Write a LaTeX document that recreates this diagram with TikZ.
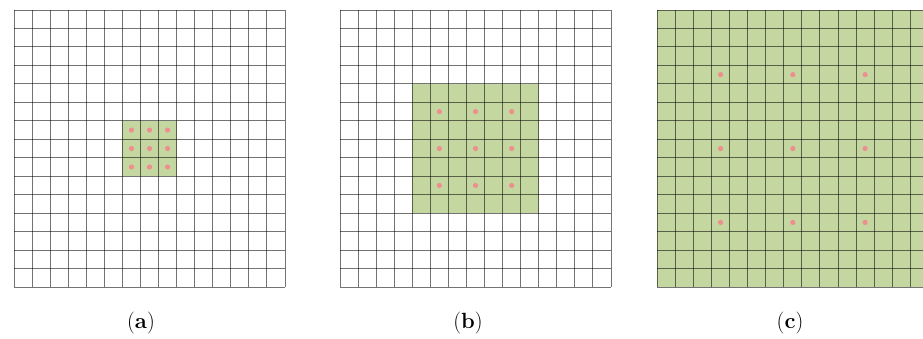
\documentclass[tikz,border=0pt]{standalone}
\usepackage{fontspec}
\definecolor{cellgreen}{RGB}{197,215,160}
\definecolor{dotpink}{RGB}{238,142,142}
\tikzset{
  gridline/.style={draw=black, draw opacity=0.55, line width=1pt},
  greenbox/.style={fill=cellgreen},
  dotmark/.style={fill=dotpink},
  caplabel/.style={font=\fontsize{22}{26}\selectfont, inner sep=0pt}
}
\newcommand{\cw}{18.07}
\newcommand{\ch}{18.47}
\newcommand{\gridtop}{10}
% #1 = left x of grid
\newcommand{\drawgridat}[1]{%
  \foreach \i in {0,...,15}{
    \draw[gridline] ({#1+\i*\cw},\gridtop) -- ({#1+\i*\cw},{\gridtop+15*\ch});
    \draw[gridline] (#1,{\gridtop+\i*\ch}) -- ({#1+15*\cw},{\gridtop+\i*\ch});
  }%
}
% #1 = left x, #2 = column list, #3 = row list
\newcommand{\drawdotsat}[3]{%
  \foreach \c in {#2}{
    \foreach \r in {#3}{
      \fill[dotmark] ({#1+(\c+0.5)*\cw},{\gridtop+(\r+0.5)*\ch}) circle (2.6);
    }
  }%
}
\begin{document}
\begin{tikzpicture}[x=1pt,y=-1pt]
\useasboundingbox (0,0) rectangle (923,338);
\fill[white] (0,0) rectangle (923,338);
% (a)
\fill[greenbox] ({14+6*\cw},{\gridtop+6*\ch}) rectangle ({14+9*\cw},{\gridtop+9*\ch});
\drawdotsat{14}{6,7,8}{6,7,8}
\drawgridat{14}
% (b)
\fill[greenbox] ({340+4*\cw},{\gridtop+4*\ch}) rectangle ({340+11*\cw},{\gridtop+11*\ch});
\drawdotsat{340}{5,7,9}{5,7,9}
\drawgridat{340}
% (c)
\begin{scope}
\clip (0,0) rectangle (923,338);
\fill[greenbox] (657.3,\gridtop) rectangle ({657.3+15*\cw},{\gridtop+15*\ch});
\drawdotsat{657.3}{3,7,11}{3,7,11}
\drawgridat{657.3}
\end{scope}
% labels
\node[caplabel] (la) at (141,323) {(\textbf{a})};
\node[caplabel] (lb) at (468,323) {(\textbf{b})};
\node[caplabel] (lc) at (790,323) {(\textbf{c})};
\end{tikzpicture}
\end{document}
